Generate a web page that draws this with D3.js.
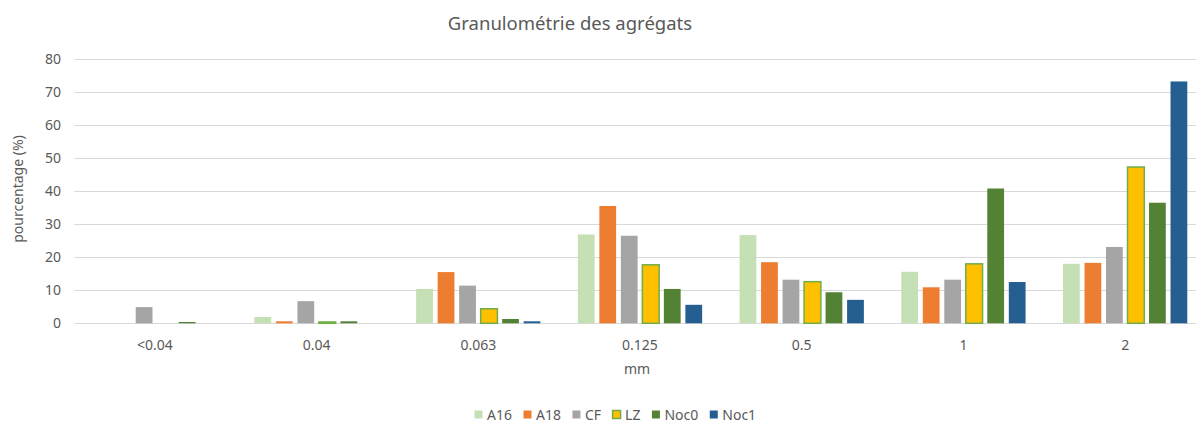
<!DOCTYPE html>
<html>
<head>
<meta charset="utf-8">
<script src="https://cdn.jsdelivr.net/npm/d3@7"></script>
<style>
  body { margin: 0; background: #fff; }
  svg { display: block; font-family: "Noto Sans", "Open Sans", sans-serif; }
</style>
</head>
<body>
<svg id="chart"></svg>
<script>
var WIDTH = 1196;
var HEIGHT = 423;

var categories = ["<0.04", "0.04", "0.063", "0.125", "0.5", "1", "2"];
var seriesNames = ["A16", "A18", "CF", "LZ", "Noc0", "Noc1"];
var A16  = [0,   1.9, 10.4, 26.9, 26.7, 15.6, 18.0];
var A18  = [0,   0.6, 15.5, 35.5, 18.5, 10.9, 18.3];
var CF   = [4.9, 6.7, 11.4, 26.5, 13.2, 13.2, 23.1];
var LZ   = [0,   0.4, 4.4,  17.7, 12.6, 18.0, 47.3];
var Noc0 = [0.4, 0.6, 1.3,  10.4, 9.4,  40.8, 36.5];
var Noc1 = [0,   0,   0.6,  5.6,  7.1,  12.5, 73.2];
var yTicks = [0, 10, 20, 30, 40, 50, 60, 70, 80];

var seriesValues = [A16, A18, CF, LZ, Noc0, Noc1];
var fills = ["#c5e0b4", "#ed7d31", "#a5a5a5", "#ffc000", "#548235", "#255e91"];
var strokes = ["none", "none", "none", "#70ad47", "none", "none"];

var svg = d3.select("#chart")
    .attr("width", WIDTH)
    .attr("height", HEIGHT);

// scales
var x0 = d3.scaleBand()
    .domain(categories)
    .range([74, 1206]);

var x1 = d3.scaleBand()
    .domain(seriesNames)
    .range([0, x0.bandwidth()])
    .paddingInner(0.22)
    .paddingOuter(0.87);

var y = d3.scaleLinear()
    .domain([0, 80])
    .range([323.3, 59]);

// gridlines
svg.append("g")
    .selectAll("line")
    .data(yTicks)
    .enter()
    .append("line")
    .attr("x1", 74)
    .attr("x2", WIDTH)
    .attr("y1", function(d) { return Math.round(y(d)) + 0.5; })
    .attr("y2", function(d) { return Math.round(y(d)) + 0.5; })
    .attr("stroke", "#d9d9d9")
    .attr("stroke-width", 1);

// y tick labels
svg.append("g")
    .selectAll("text")
    .data(yTicks)
    .enter()
    .append("text")
    .attr("x", 61)
    .attr("y", function(d) { return y(d); })
    .attr("dy", "0.35em")
    .attr("text-anchor", "end")
    .attr("fill", "#595959")
    .attr("font-size", 14)
    .text(function(d) { return d; });

// bars
var table = categories.map(function(c, i) {
    return seriesNames.map(function(s, j) {
        return { cat: c, name: s, value: seriesValues[j][i], idx: j };
    });
});

svg.append("g")
    .selectAll("g")
    .data(table)
    .enter()
    .append("g")
    .attr("transform", function(d, i) { return "translate(" + x0(categories[i]) + ",0)"; })
    .selectAll("rect")
    .data(function(d) { return d; })
    .enter()
    .append("rect")
    .filter(function(d) { return d.value > 0; })
    .attr("x", function(d) { return x1(d.name); })
    .attr("y", function(d) { return y(d.value); })
    .attr("width", x1.bandwidth())
    .attr("height", function(d) { return y(0) - y(d.value); })
    .attr("fill", function(d) { return fills[d.idx]; })
    .attr("stroke", function(d) { return strokes[d.idx]; })
    .attr("stroke-width", 1.5);

// category labels
svg.append("g")
    .selectAll("text")
    .data(categories)
    .enter()
    .append("text")
    .attr("x", function(d) { return x0(d) + x0.bandwidth() / 2; })
    .attr("y", 345)
    .attr("dy", "0.35em")
    .attr("text-anchor", "middle")
    .attr("fill", "#595959")
    .attr("font-size", 14)
    .text(function(d) { return d; });

// title
svg.append("text")
    .attr("x", 570)
    .attr("y", 24)
    .attr("dy", "0.35em")
    .attr("text-anchor", "middle")
    .attr("fill", "#595959")
    .attr("font-size", 18.5)
    .text("Granulométrie des agrégats");

// axis titles
svg.append("text")
    .attr("x", 637)
    .attr("y", 369)
    .attr("dy", "0.35em")
    .attr("text-anchor", "middle")
    .attr("fill", "#595959")
    .attr("font-size", 14)
    .text("mm");

svg.append("text")
    .attr("transform", "translate(18,189) rotate(-90)")
    .attr("dy", "0.35em")
    .attr("text-anchor", "middle")
    .attr("fill", "#595959")
    .attr("font-size", 14)
    .text("pourcentage (%)");

// legend
var legend = svg.append("g");
var lx = 474;
seriesNames.forEach(function(s, i) {
    var item = legend.append("g").attr("transform", "translate(" + lx + ",0)");
    item.append("rect")
        .attr("x", 0.5)
        .attr("y", 410.5)
        .attr("width", 8)
        .attr("height", 8)
        .attr("fill", fills[i])
        .attr("stroke", strokes[i])
        .attr("stroke-width", 1.5);
    var t = item.append("text")
        .attr("x", 13)
        .attr("y", 415)
        .attr("dy", "0.35em")
        .attr("fill", "#595959")
        .attr("font-size", 14)
        .text(s);
    lx += 13 + t.node().getComputedTextLength() + 11;
});
</script>
</body>
</html>
